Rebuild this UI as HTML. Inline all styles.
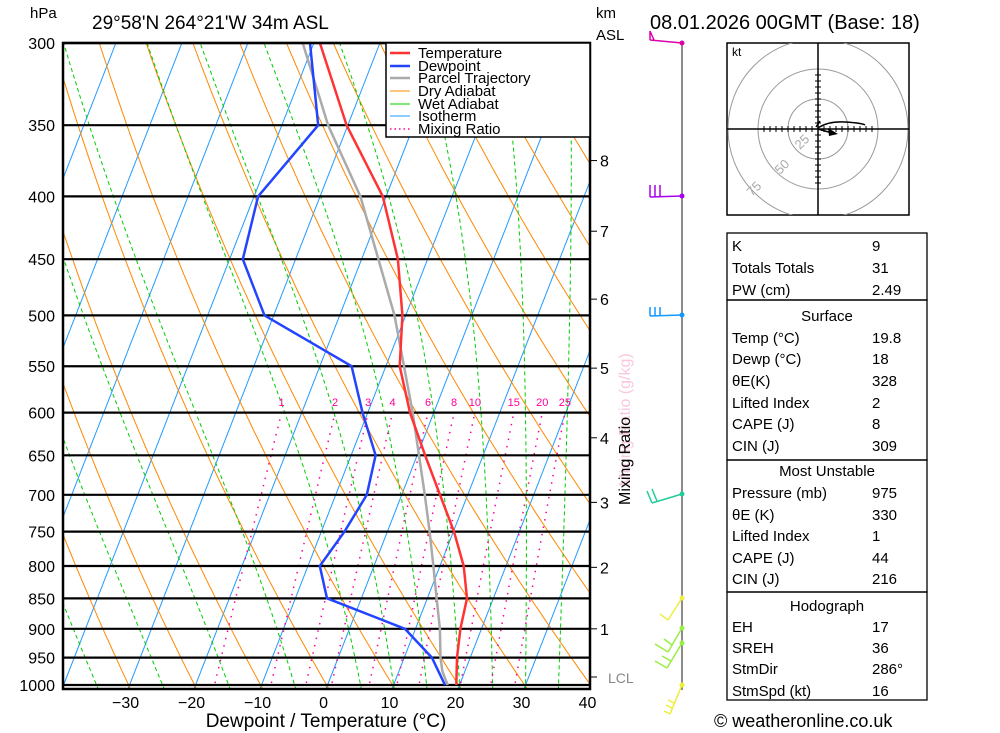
<!DOCTYPE html>
<html><head><meta charset="utf-8"><style>
body{margin:0;background:#fff;}
svg{display:block;font-family:"Liberation Sans","DejaVu Sans",sans-serif;}
</style></head><body>
<svg id="c" width="1000" height="733" viewBox="0 0 1000 733" xmlns="http://www.w3.org/2000/svg">
<defs><clipPath id="clip"><rect x="63" y="43" width="527" height="646"/></clipPath></defs>
<g id="bg" clip-path="url(#clip)"></g>
<g id="isobars"></g>
<g id="series" clip-path="url(#clip)"></g>
<rect x="63" y="43" width="527" height="646" fill="none" stroke="#000" stroke-width="2.5"/>
<g id="labels"></g>
<text x="30" y="18" font-size="15">hPa</text>
<text x="92" y="29" font-size="19">29°58'N  264°21'W  34m  ASL</text>
<text x="596" y="18" font-size="15">km</text>
<text x="596" y="40" font-size="15">ASL</text>
<text x="650" y="29" font-size="20">08.01.2026  00GMT  (Base: 18)</text>
<text x="326" y="727" font-size="19" text-anchor="middle">Dewpoint / Temperature (°C)</text>
<text transform="translate(630,420) rotate(-90)" font-size="16" text-anchor="middle" fill="#f8c8e0">Mixing Ratio (g/kg)</text>
<text transform="translate(630,420) rotate(-90)" font-size="16" text-anchor="start" fill="#000" x="-85">Mixing Ratio</text>
<g>
<rect x="386" y="43" width="204" height="94" fill="#fff" stroke="#000" stroke-width="1.5"/>
<line x1="390" y1="53" x2="410" y2="53" stroke="#f33" stroke-width="2.5"/><text x="418" y="58" font-size="15">Temperature</text>
<line x1="390" y1="66" x2="410" y2="66" stroke="#24f" stroke-width="2.5"/><text x="418" y="71" font-size="15">Dewpoint</text>
<line x1="390" y1="78" x2="410" y2="78" stroke="#aaa" stroke-width="2.5"/><text x="418" y="83" font-size="15">Parcel Trajectory</text>
<line x1="390" y1="91" x2="410" y2="91" stroke="#f80" stroke-width="1"/><text x="418" y="96" font-size="15">Dry Adiabat</text>
<line x1="390" y1="104" x2="410" y2="104" stroke="#0c0" stroke-width="1"/><text x="418" y="109" font-size="15">Wet Adiabat</text>
<line x1="390" y1="116" x2="410" y2="116" stroke="#29f" stroke-width="1"/><text x="418" y="121" font-size="15">Isotherm</text>
<line x1="390" y1="129" x2="410" y2="129" stroke="#f09" stroke-width="1.5" stroke-dasharray="1.5,3"/><text x="418" y="134" font-size="15">Mixing Ratio</text>
</g>
<g id="wind"></g>
<g>
<rect x="727" y="43" width="182" height="172" fill="#fff" stroke="#000" stroke-width="1.5"/>
<clipPath id="hclip"><rect x="727" y="43" width="182" height="172"/></clipPath>
<g clip-path="url(#hclip)">
<circle cx="818" cy="129" r="30" fill="none" stroke="#999"/>
<circle cx="818" cy="129" r="60" fill="none" stroke="#999"/>
<circle cx="818" cy="129" r="90" fill="none" stroke="#999"/>
</g>
<line x1="727" y1="129" x2="909" y2="129" stroke="#000" stroke-width="1.5"/>
<line x1="818" y1="43" x2="818" y2="215" stroke="#000" stroke-width="1.5"/>
<g id="hticks" stroke="#000"></g>
<text x="732" y="56" font-size="12">kt</text>
<text transform="translate(800,150) rotate(-45)" font-size="13" fill="#aaa">25</text>
<text transform="translate(780,175) rotate(-45)" font-size="13" fill="#aaa">50</text>
<text transform="translate(752,197) rotate(-45)" font-size="13" fill="#aaa">75</text>
<path d="M818,128 Q828,121 845,122 T865,125" fill="none" stroke="#000" stroke-width="1.5"/>
<line x1="820" y1="121" x2="816" y2="127" stroke="#000" stroke-width="1.5"/>
<line x1="818" y1="129" x2="832" y2="133" stroke="#000" stroke-width="1.5"/>
<polygon points="828,128 838,134 829,136" fill="#000"/>
</g>
<g id="table" font-size="15"></g>
<text x="714" y="727" font-size="18">© weatheronline.co.uk</text>
</svg>
<script>
const pressures=[1000,950,900,850,800,750,700,650,600,550,500,450,400,350,300];
const tempC=[19.5,18.0,16.8,16.0,13.6,10.1,5.8,1.2,-3.6,-7.9,-10.5,-14.5,-20.5,-30.2,-39.1];
const dewC=[17.8,14.2,8.4,-5.2,-8.2,-6.5,-5.3,-6.3,-10.8,-15.2,-31.4,-38.0,-39.4,-34.5,-40.6];
const parcelP=[1000,975,950,900,850,800,750,700,600,500,400,350,300];
const parcelC=[18.2,16.6,15.5,13.7,11.4,9.0,6.4,3.5,-3.2,-11.7,-23.9,-33.0,-41.7];
const xTicks=[-30,-20,-10,0,10,20,30,40];
const pTicks=[300,350,400,450,500,550,600,650,700,750,800,850,900,950,1000];
const kmLabels=[8,7,6,5,4,3,2,1];
const kmPress=[374,427,485,552,629,710,802,900];
const mixRatios=[1,2,3,4,6,8,10,15,20,25];

const NS="http://www.w3.org/2000/svg";
function Y(p){return 43+Math.log(p/300)/Math.log(1000/300)*642;}
function X(t,p){return 326+6.6*t+(689-Y(p))*0.39;}
function el(tag,attrs,parent){const e=document.createElementNS(NS,tag);for(const k in attrs)e.setAttribute(k,attrs[k]);parent.appendChild(e);return e;}
const bg=document.getElementById('bg');
function poly(pts,stroke,w,dash,parent,name){
  const e=el('polyline',{points:pts.map(q=>q[0].toFixed(1)+','+q[1].toFixed(1)).join(' '),fill:'none',stroke:stroke,'stroke-width':w},parent);
  if(dash)e.setAttribute('stroke-dasharray',dash);
  
  
  return e;}
for(let t=-120;t<=40;t+=10){poly([[X(t,1030),Y(1030)],[X(t,300),Y(300)]],'#29f',1,null,bg,'isotherm');}
for(let th=183;th<=473;th+=10){const pts=[];for(let p=1030;p>=295;p-=10)pts.push([X(th*Math.pow(p/1000,0.2857)-273.15,p),Y(p)]);poly(pts,'#f80',1,null,bg,'dry-adiabat');}
function es(tc){return 6.112*Math.exp(17.67*tc/(tc+243.5));}
const wets=[-35,-25,-15,-5,5,10,15,20,25,30,35];
wets.forEach(w=>{let T=w+273.15,p=1000;const pts=[];
  {const e=es(T-273.15),rs=0.622*e/(p-e);const dT=(287*T+2.5e6*rs)/(1004+2.5e6*2.5e6*rs*0.622/(287*T*T))/p;pts.push([X(T+dT*10-273.15,1010),Y(1010)]);}
  pts.push([X(T-273.15,p),Y(p)]);
  while(p>295){const e=es(T-273.15),rs=0.622*e/(p-e);
    const dT=(287*T+2.5e6*rs)/(1004+2.5e6*2.5e6*rs*0.622/(287*T*T))/p;T-=dT*5;p-=5;pts.push([X(T-273.15,p),Y(p)]);}
  poly(pts,'#0c0',1,'4,3',bg,'wet-adiabat');});
const lab=document.getElementById('labels');
mixRatios.forEach(w=>{const pts=[];for(let p=1010;p>=600;p-=10){const e=(w/1000)*p/(0.622+w/1000),l=Math.log(e/6.112);pts.push([X(243.5*l/(17.67-l),p),Y(p)]);}
  poly(pts,'#f09',1.5,'1.5,6',bg,'mixing-ratio-line');
  const last=pts[pts.length-1];const t=el('text',{x:last[0].toFixed(1),y:406,'font-size':11,'text-anchor':'middle',fill:'#f09'},lab);t.textContent=w;
  
  });
const iso=document.getElementById('isobars');
pTicks.forEach(p=>{const l=el('line',{x1:63,x2:590,y1:Y(p),y2:Y(p),stroke:'#000','stroke-width':2.2},iso);
  
  
  const t=el('text',{x:55,y:Y(p)+6,'font-size':16,'text-anchor':'end'},lab);t.textContent=p;
  
  });
xTicks.forEach(v=>{const t=el('text',{x:X(v,1000)-4,y:708,'font-size':16,'text-anchor':'middle'},lab);t.textContent=(v<0?'\u2212'+(-v):v);
  
  });
kmLabels.forEach((k,i)=>{const y=Y(kmPress[i]);el('line',{x1:590,x2:597,y1:y,y2:y,stroke:'#000'},lab);
  const t=el('text',{x:600,y:y+6,'font-size':16},lab);t.textContent=k;
  
  });
{const t=el('text',{x:608,y:683,'font-size':14,fill:'#888'},lab);t.textContent='LCL';
 
 
 el('line',{x1:590,x2:597,y1:677,y2:677,stroke:'#000'},lab);}
const ser=document.getElementById('series');
poly(parcelP.map((p,i)=>[X(parcelC[i],p),Y(p)]),'#aaa',2.5,null,ser,'parcel-trajectory-line');
poly(pressures.map((p,i)=>[X(dewC[i],p),Y(p)]),'#24f',2.5,null,ser,'dewpoint-line');
poly(pressures.map((p,i)=>[X(tempC[i],p),Y(p)]),'#f33',2.5,null,ser,'temperature-line');
const wind=document.getElementById('wind');
el('line',{x1:682,x2:682,y1:43,y2:690,stroke:'#666','stroke-width':1.5},wind);
const barbs=[[43,'#d0a','M682,43 L650,40 M650,40 l0,-9 l4,9'],[196,'#a0e','M682,196 L650,197 M650,197 l0,-12 M655,197 l0,-12 M660,197 l0,-12'],[315,'#19f','M682,315 L650,316 M650,316 l0,-9 M655,316 l0,-9 M660,316 l0,-9'],[494,'#2c9','M682,494 L652,503 M652,503 l-5,-12 M657,501 l-5,-12'],[598,'#ee4','M682,598 L668,620 M668,620 l-8,-6'],[628,'#9e4','M682,628 L668,652 M668,652 l-13,-8 M672,645 l-8,-6'],[643,'#9e4','M682,643 L667,668 M667,668 l-12,-7 M671,661 l-9,-5'],[685,'#ee3','M682,685 L670,714 M670,714 l-6,-3 M672,708 l-6,-3 M674,703 l-6,-3']];
barbs.forEach(b=>{el('path',{d:b[2],stroke:b[1],'stroke-width':1.5,fill:'none'},wind);el('circle',{cx:682,cy:b[0],r:2.5,fill:b[1]},wind);});
const ht=document.getElementById('hticks');
for(let i=-9;i<=9;i++){if(!i)continue;el('line',{x1:818+i*6,x2:818+i*6,y1:126,y2:132},ht);el('line',{y1:129+i*6,y2:129+i*6,x1:815,x2:821},ht);}
const tb=document.getElementById('table');
const rows=[['K','9',245],['Totals Totals','31',267],['PW (cm)','2.49',289],['Temp (°C)','19.8',337],['Dewp (°C)','18',358],['θE(K)','328',380],['Lifted Index','2',402],['CAPE (J)','8',423],['CIN (J)','309',445],['Pressure (mb)','975',492],['θE (K)','330',514],['Lifted Index','1',535],['CAPE (J)','44',557],['CIN (J)','216',578],['EH','17',626],['SREH','36',647],['StmDir','286°',668],['StmSpd (kt)','16',690]];
[[233,300],[300,460],[460,592],[592,700]].forEach(r=>el('rect',{x:727,y:r[0],width:200,height:r[1]-r[0],fill:'none',stroke:'#000','stroke-width':1.3},tb));
[['Surface',315],['Most Unstable',470],['Hodograph',605]].forEach(h=>{const t=el('text',{x:827,y:h[1]+6,'text-anchor':'middle'},tb);t.textContent=h[0];
  
  });
rows.forEach(r=>{const a=el('text',{x:732,y:r[2]+6},tb);a.textContent=r[0];
  
  
  const b=el('text',{x:872,y:r[2]+6},tb);b.textContent=r[1];
  
  });
</script>
</body></html>
